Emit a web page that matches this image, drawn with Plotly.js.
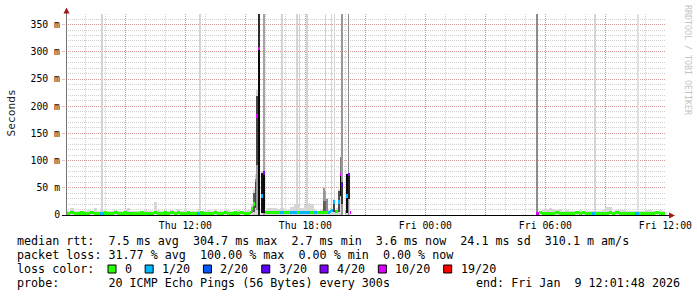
<!DOCTYPE html>
<html><head><meta charset="utf-8">
<script src="https://cdn.plot.ly/plotly-3.0.1.min.js"></script>
<style>html,body{margin:0;padding:0;background:#fff;}#chart{width:697px;height:297px;}</style>
</head><body><div id="chart"></div>
<script>
// ---------- DATA (time = minutes since Thu 2026-01-08 00:00, sample centres) ----------
const medT = [370,380,390,400,410,420,430,440,450,460,470,480,490,500,510,520,530,540,550,560,
  570,580,590,600,610,620,630,640,650,660,670,680,690,700,710,720,730,740,750,760,
  770,780,790,800,810,820,830,840,850,860,870,880,890,900,910,
  915,920,925,930,935,940,945,950,955,
  960,970,980,990,1000,1010,1020,1030,1040,1050,1060,1070,1080,1090,1100,1110,1120,1130,
  1135,1140,1145,1150,1155,1160,1165,1170,1175,1180,1185,1190,1195,1200,1205,1210,1215,
  1220,1770,1775,
  1785,1795,1805,1815,1825,1835,1845,1855,1865,1875,1885,1895,1905,1915,1925,1935,1945,1955,1965,1975,
  1985,1995,2005,2015,2025,2035,2045,2055,2065,2075,2085,2095,2105,2115,2125,2135,2145,2155];
// median rtt in ms (null = 100% loss)
const medV = [3,5,3,3,3.5,3,3,5,3,3,3,3.5,3,3,5,3,3,3.5,3,3,
  3,3,3.5,3,3,3,5,3,3,3.5,3,5,3,5,3,3,3.5,3,3,3,
  3.5,3,3,3,4,3,3,4,3,3,3.5,3,4,3,3,
  4,12,20,63,182,306,null,35,77,
  4,5,4,5,5,5,4,4,4,4,5,4,4,4,5,4,4,4,
  4,4,5,5,6,8,24,6,7,24,75,55,null,5,35,75,5,
  null,null,3,
  4,3,3,3,3,4,3,3,3,3,3,5,3,5,3,3,3,3,3,3,
  3,5,3,5,3,3,3,3,3,3,3,3,3,3,3,5,3,3];
// lost pings out of 20
const medLoss = [0,0,0,0,0,0,0,0,0,0,1,0,0,0,0,0,0,0,0,0,
  0,0,0,0,0,0,0,0,0,0,0,0,0,0,0,0,0,0,0,1,
  0,0,0,0,0,0,0,0,0,0,0,0,0,0,0,
  0,0,0,1,10,10,20,1,4,
  0,0,0,0,0,1,0,0,1,1,0,1,1,1,0,1,0,0,
  0,0,0,1,1,1,1,1,0,1,10,3,20,0,1,4,10,
  20,20,10,
  0,0,0,0,0,0,0,0,0,0,0,0,0,0,0,0,1,0,0,0,
  0,0,0,0,0,0,0,0,0,1,0,0,0,0,0,0,0,0];
// highest ping of the sample (light smoke), ms
const smokeHi = [7,12,8,7,7,8,9,8,12,8,9,7,8,8,9,8,7,9,12,8,
  7,8,8,9,8,8,24,10,8,9,8,9,8,11,8,9,8,7,8,9,
  8,8,9,8,11,8,8,9,10,8,8,9,8,8,9,
  7,20,48,75,230,306,null,80,80,
  9,12,13,12,11,12,9,10,14,20,19,12,18,22,20,9,8,9,
  52,46,32,10,12,10,30,10,12,48,107,62,null,8,78,78,8,
  null,null,5,
  8,10,11,12,11,10,11,8,9,8,7,8,9,8,8,7,8,8,8,9,
  15,14,8,9,10,9,8,7,8,8,7,8,9,10,8,8,9,8];
// dense smoke bands: time, low ms, high ms, pings inside
const coreT  = [920,925,930,935,935,940,950,955,1135,1135,1140,1140,1145,1165,1180,1185,1185,1190,1205,1210];
const coreLo = [4,6,12,10,92,10,3,3,3,25,3,25,3,6,5,35,77,20,3,30];
const coreHi = [14,40,64,92,219,306,77,77,25,50,25,45,30,28,45,77,107,60,75,76];
const coreN  = [8,12,14,7,14,19,18,19,12,7,11,6,8,14,13,19,9,15,19,17];
// samples with pings far above the scale: time, highest ms, pings up there
const spikeT   = [469,763,940,955,1009,1054,1062,1083,1086,1140,1158,1167,1189,1209,1775,1948,2078];
const spikeMax = [2000,2000,2000,2000,2000,2000,2000,2000,2000,2000,2000,2000,2000,2000,2000,2000,2000];
const spikeN   = [2,2,16,6,2,2,2,2,2,2,2,2,7,8,8,2,1];

const tickVals = [540,720,900,1080,1260,1440,1620,1800,1980,2160];
const tickText = ['','Thu 12:00','','Thu 18:00','','Fri 00:00','','Fri 06:00','','Fri 12:00'];
const yTickVals = [0,50,100,150,200,250,300,350];
const yTickText = ['0','50 m','100 m','150 m','200 m','250 m','300 m','350 m'];

const lossSteps  = [0,1,2,3,4,10,19];
const lossLabels = ['0','1/20','2/20','3/20','4/20','10/20','19/20'];
const lossColors = ['#26ff00','#00b8ff','#0059ff','#5e00ff','#7e00ff','#dd00ff','#ff0000'];

const statLines = [
  'median rtt:  7.5 ms avg  304.7 ms max  2.7 ms min  3.6 ms now  24.1 ms sd  310.1 m am/s',
  'packet loss: 31.77 % avg  100.00 % max  0.00 % min  0.00 % now',
  'loss color:',
  'probe:       20 ICMP Echo Pings (56 Bytes) every 300s'
];
const endText = 'end: Fri Jan  9 12:01:48 2026';

// ---------- DRAWING ----------
const STEP = 5;          // probe step, minutes
const BAND = 6;          // median band thickness, ms
const MONO = 'DejaVu Sans Mono';
const PX = x => (x - 66) / 600;
const PY = y => (215 - y) / 201;
const nb = s => s.replace(/ /g, '\u00a0');
const gray = n => { const v = Math.max(0, 236 - n * 12); return `rgb(${v},${v},${v})`; };
const lossColor = n => { let c = lossColors[0]; lossSteps.forEach((s, i) => { if (n >= s) c = lossColors[i]; }); return c; };

const n = medT.length, L = [], R = [];
for (let i = 0; i < n; i++) {
  L.push(i > 0 ? (medT[i-1] + medT[i]) / 2 : medT[i] - (medT[i+1] - medT[i]) / 2);
  R.push(i < n - 1 ? (medT[i] + medT[i+1]) / 2 : medT[i] + (medT[i] - medT[i-1]) / 2);
}
const sm = {x:[], w:[], y:[]}, md = {x:[], w:[], b:[], y:[], c:[]};
for (let i = 0; i < n; i++) {
  const c = (L[i] + R[i]) / 2, w = R[i] - L[i];
  if (smokeHi[i] != null) { sm.x.push(c); sm.w.push(w); sm.y.push(smokeHi[i]); }
  if (medV[i] != null) { md.x.push(c); md.w.push(w); md.b.push(medV[i] - BAND/2); md.y.push(BAND); md.c.push(lossColor(medLoss[i])); }
}
const traces = [
  {type:'bar', x:sm.x, y:sm.y, width:sm.w, base:0, marker:{color:'#d6d6d6', line:{width:0}}, hoverinfo:'skip'},
  {type:'bar', x:spikeT, y:spikeMax, width:STEP, base:0, marker:{color:spikeN.map(gray), line:{width:0}}, hoverinfo:'skip'},
  {type:'bar', x:coreT, y:coreHi.map((h, i) => h - coreLo[i]), base:coreLo, width:STEP, marker:{color:coreN.map(gray), line:{width:0}}, hoverinfo:'skip'},
  {type:'bar', x:md.x, y:md.y, base:md.b, width:md.w, marker:{color:md.c, line:{width:0}}, hoverinfo:'skip'}
];

const tfont = {family:MONO, size:9.8, color:'#000'};
const lfont = {family:MONO, size:11.7, color:'#000'};
const annotations = [];
const shapes = [];
const rowY = [241, 255, 269, 283];
statLines.forEach((t, i) => annotations.push({xref:'paper', yref:'paper', x:PX(16), y:PY(rowY[i]), xanchor:'left', yanchor:'middle', text:nb(t), showarrow:false, font:lfont, borderpad:0}));
annotations.push({xref:'paper', yref:'paper', x:PX(681), y:PY(283), xanchor:'right', yanchor:'middle', text:nb(endText), showarrow:false, font:lfont, borderpad:0});
// loss colour legend
const CW = 7.05;
let lx = 108;
lossLabels.forEach((lab, i) => {
  shapes.push({type:'rect', xref:'paper', yref:'paper', x0:PX(lx), x1:PX(lx+8), y0:PY(273), y1:PY(265), fillcolor:lossColors[i], line:{color:'#000', width:1}});
  annotations.push({xref:'paper', yref:'paper', x:PX(lx+16), y:PY(269), xanchor:'left', yanchor:'middle', text:nb(lab), showarrow:false, font:lfont, borderpad:0});
  lx = lx + 16 + lab.length * CW + 2 * CW;
});
annotations.push({xref:'paper', yref:'paper', x:PX(11), y:PY(113.5), xanchor:'center', yanchor:'middle', textangle:-90, text:'Seconds', showarrow:false, font:{family:MONO, size:11.2, color:'#222'}, borderpad:0});
annotations.push({xref:'paper', yref:'paper', x:PX(688), y:PY(60), xanchor:'center', yanchor:'middle', textangle:90, text:nb('RRDTOOL / TOBI OETIKER'), showarrow:false, font:{family:MONO, size:8.3, color:'#c4c4c4'}, borderpad:0});
// axes lines & arrows
shapes.push({type:'line', xref:'paper', yref:'paper', x0:PX(66.5), x1:PX(66.5), y0:PY(215.5), y1:PY(12), line:{color:'#777', width:1}});
shapes.push({type:'line', xref:'paper', yref:'paper', x0:PX(62), x1:PX(669), y0:PY(215.5), y1:PY(215.5), line:{color:'#000', width:1}});
shapes.push({type:'path', xref:'paper', yref:'paper', path:`M ${PX(63.5)} ${PY(13.5)} L ${PX(66.5)} ${PY(7.5)} L ${PX(69.5)} ${PY(13.5)} Z`, fillcolor:'#a01818', line:{width:0}});
shapes.push({type:'path', xref:'paper', yref:'paper', path:`M ${PX(669)} ${PY(212.5)} L ${PX(675)} ${PY(215.5)} L ${PX(669)} ${PY(218.5)} Z`, fillcolor:'#a01818', line:{width:0}});

const majorGrid = 'rgba(215,60,60,0.36)', minorGrid = 'rgba(140,140,140,0.42)';
const layout = {
  width:697, height:297, margin:{l:66, r:31, t:14, b:82, pad:0},
  paper_bgcolor:'#fff', plot_bgcolor:'#fff', showlegend:false, barmode:'overlay', bargap:0,
  xaxis:{type:'linear', range:[361.8, 2161.8], tickmode:'array', tickvals:tickVals, ticktext:tickText,
    showgrid:true, gridcolor:majorGrid, griddash:'1px,1px', gridwidth:1, zeroline:false, showline:false, ticks:'',
    ticklabelstandoff:3, tickfont:tfont, fixedrange:true,
    minor:{tickmode:'linear', tick0:0, dtick:60, showgrid:true, gridcolor:minorGrid, griddash:'1px,1px', gridwidth:1, ticks:''}},
  yaxis:{range:[0, 369.5], tickmode:'array', tickvals:yTickVals, ticktext:yTickText,
    showgrid:true, gridcolor:majorGrid, griddash:'1px,1px', gridwidth:1, zeroline:false, showline:false,
    ticks:'outside', ticklen:3, tickcolor:majorGrid, tickfont:tfont, fixedrange:true,
    minor:{tickmode:'linear', tick0:0, dtick:10, showgrid:true, gridcolor:minorGrid, griddash:'1px,1px', gridwidth:1, ticks:''}},
  annotations:annotations, shapes:shapes
};
Plotly.newPlot('chart', traces, layout, {staticPlot:true, displayModeBar:false});
</script></body></html>
